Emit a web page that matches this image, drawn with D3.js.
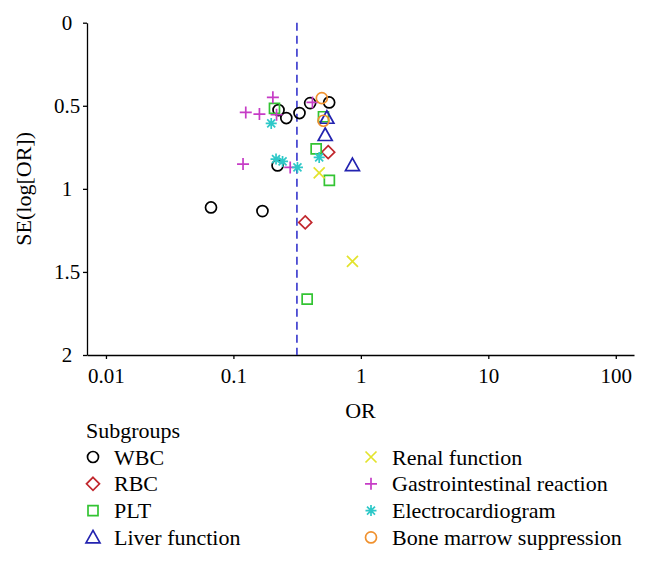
<!DOCTYPE html>
<html>
<head>
<meta charset="utf-8">
<script src="https://cdn.jsdelivr.net/npm/d3@7"></script>
<style>
  body { margin: 0; background: #fff; }
  text { font-family: "Liberation Serif", "DejaVu Serif", serif; }
</style>
</head>
<body>
<div id="chart"></div>
<script>
// subgroup names, in legend order
const subgroups = ['WBC', 'RBC', 'PLT', 'Liver function',
  'Renal function', 'Gastrointestinal reaction', 'Electrocardiogram', 'Bone marrow suppression'];

// odds ratios and standard errors
const wbcOR = [0.226, 0.26, 0.33, 0.40, 0.564, 0.222, 0.0667, 0.169];
const wbcSE = [0.526, 0.574, 0.544, 0.484, 0.48, 0.859, 1.112, 1.134];
const rbcOR = [0.554, 0.366];
const rbcSE = [0.779, 1.202];
const pltOR = [0.21, 0.509, 0.446, 0.566, 0.379];
const pltSE = [0.516, 0.566, 0.759, 0.949, 1.664];
const liverOR = [0.541, 0.525, 0.859];
const liverSE = [0.572, 0.676, 0.857];
const renalOR = [0.471, 0.859];
const renalSE = [0.904, 1.437];
const giOR = [0.204, 0.125, 0.160, 0.218, 0.417, 0.119, 0.279];
const giSE = [0.449, 0.54, 0.55, 0.554, 0.48, 0.851, 0.871];
const ecgOR = [0.198, 0.471, 0.216, 0.243, 0.318];
const ecgSE = [0.606, 0.811, 0.821, 0.835, 0.871];
const boneOR = [0.494, 0.509];
const boneSE = [0.454, 0.59];

const pooledOR = 0.315;

const xTicks = [0.01, 0.1, 1, 10, 100];
const xTickLabels = ['0.01', '0.1', '1', '10', '100'];
const yTicks = [0, 0.5, 1, 1.5, 2];
const yTickLabels = ['0', '0.5', '1', '1.5', '2'];

const width = 648,
      height = 565,
      plotLeft = 87, plotRight = 634, plotTop = 22.7, plotBottom = 355;

const shapes = ['circle', 'diamond', 'square', 'triangle', 'x', 'plus', 'asterisk', 'circle'];
const colors = ['#000000', '#c1272d', '#33c433', '#2323b0', '#e3e32c', '#c63cc6', '#2ec8c8', '#f0912e'];
const seriesOR = [wbcOR, rbcOR, pltOR, liverOR, renalOR, giOR, ecgOR, boneOR];
const seriesSE = [wbcSE, rbcSE, pltSE, liverSE, renalSE, giSE, ecgSE, boneSE];

function markerPath(shape) {
  switch (shape) {
    case 'circle': return 'M5.5,0A5.5,5.5 0 1,1 -5.5,0A5.5,5.5 0 1,1 5.5,0Z';
    case 'diamond': return 'M0,-6.5L6.5,0L0,6.5L-6.5,0Z';
    case 'square': return 'M-5,-5H5V5H-5Z';
    case 'triangle': return 'M0,-7L7,5.5L-7,5.5Z';
    case 'x': return 'M-5.5,-5.5L5.5,5.5M-5.5,5.5L5.5,-5.5';
    case 'plus': return 'M-6,0H6M0,-6V6';
    case 'asterisk': return 'M-5.5,0H5.5M0,-5.5V5.5M-4,-4L4,4M-4,4L4,-4';
  }
}

let svg = d3.select('#chart')
  .append('svg')
  .attr('width', width)
  .attr('height', height);

let x = d3.scaleLog()
  .domain([0.0071, 139])
  .range([plotLeft, plotRight]);

let y = d3.scaleLinear()
  .domain([0, 2])
  .range([plotTop, plotBottom]);

// axes
let xAxis = svg.append('g')
  .attr('transform', `translate(0, ${plotBottom})`)
  .call(d3.axisBottom(x)
    .tickValues(xTicks)
    .tickFormat((d, i) => xTickLabels[i])
    .tickSize(4)
    .tickSizeOuter(0));

let yAxis = svg.append('g')
  .attr('transform', `translate(${plotLeft}, 0)`)
  .call(d3.axisLeft(y)
    .tickValues(yTicks)
    .tickFormat((d, i) => yTickLabels[i])
    .tickSize(4)
    .tickSizeOuter(0));

svg.selectAll('.domain, .tick line')
  .attr('stroke', '#000')
  .attr('stroke-width', 1.3);

xAxis.selectAll('.tick text')
  .attr('y', 13)
  .attr('font-size', 21)
  .attr('fill', '#000')
  .style('font-family', '"Liberation Serif", serif');

yAxis.selectAll('.tick text')
  .attr('x', -20)
  .attr('text-anchor', 'middle')
  .attr('font-size', 21)
  .attr('fill', '#000')
  .style('font-family', '"Liberation Serif", serif');

svg.append('text')
  .attr('x', (plotLeft + plotRight) / 2)
  .attr('y', 418)
  .attr('text-anchor', 'middle')
  .attr('font-size', 22)
  .text('OR');

svg.append('text')
  .attr('transform', `translate(31, ${(plotTop + plotBottom) / 2}) rotate(-90)`)
  .attr('text-anchor', 'middle')
  .attr('font-size', 22)
  .text('SE(log[OR])');

// pooled estimate
svg.append('line')
  .attr('x1', x(pooledOR))
  .attr('x2', x(pooledOR))
  .attr('y1', y(0))
  .attr('y2', y(2))
  .attr('stroke', '#3535cc')
  .attr('stroke-width', 1.6)
  .attr('stroke-dasharray', '8,5');

// study points
seriesOR.forEach((ors, k) => {
  let pts = ors.map((or, i) => ({or: or, se: seriesSE[k][i]}));
  svg.append('g')
    .selectAll('path')
    .data(pts)
    .enter()
    .append('path')
    .attr('d', markerPath(shapes[k]))
    .attr('transform', d => `translate(${x(d.or)}, ${y(d.se)})`)
    .attr('fill', 'none')
    .attr('stroke', colors[k])
    .attr('stroke-width', 1.7);
});

// legend
svg.append('text')
  .attr('x', 86)
  .attr('y', 438)
  .attr('font-size', 22)
  .text('Subgroups');

let legend = svg.append('g')
  .selectAll('g')
  .data(subgroups)
  .enter()
  .append('g')
  .attr('transform', (d, i) => `translate(${i < 4 ? 93 : 371}, ${457 + (i % 4) * 26.8})`);

legend.append('path')
  .attr('d', (d, i) => markerPath(shapes[i]))
  .attr('fill', 'none')
  .attr('stroke', (d, i) => colors[i])
  .attr('stroke-width', 1.7);

legend.append('text')
  .attr('x', 21)
  .attr('y', 7.5)
  .attr('font-size', 22)
  .text(d => d);
</script>
</body>
</html>
